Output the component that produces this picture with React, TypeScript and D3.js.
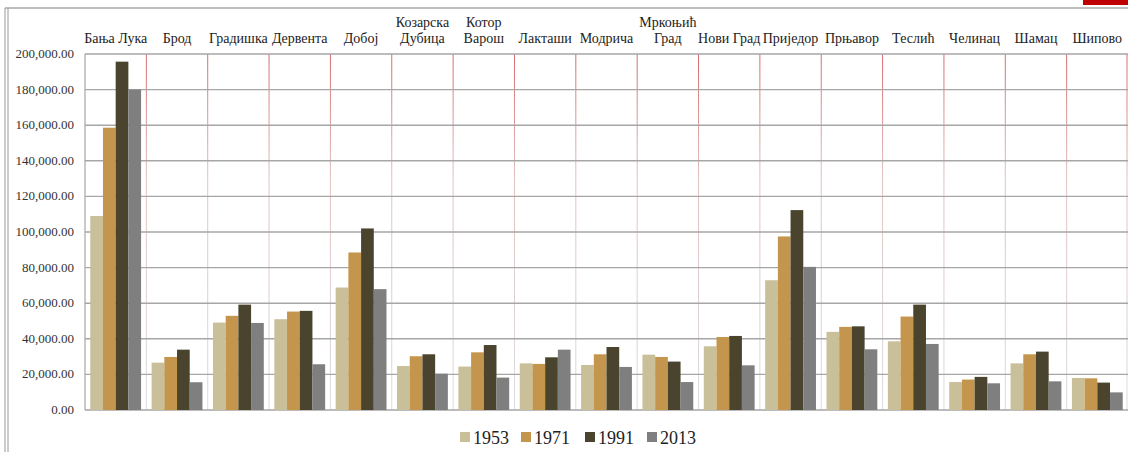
import * as React from "react";
import * as d3 from "d3";

const categories = [
  "Бања Лука", "Брод", "Градишка", "Дервента", "Добој", "Козарска\nДубица", "Котор\nВарош",
  "Лакташи", "Модрича", "Мркоњић\nГрад", "Нови Град", "Приједор", "Прњавор", "Теслић",
  "Челинац", "Шамац", "Шипово",
];

const years = ["1953", "1971", "1991", "2013"];

const pop1953 = [109000, 26600, 49100, 51000, 68800, 24700, 24400, 26200, 25300, 31100, 35800, 72900, 43900, 38600, 15700, 26200, 18000];
const pop1971 = [158600, 29800, 52900, 55300, 88500, 30200, 32400, 25900, 31300, 29800, 41000, 97500, 46700, 52500, 17100, 31300, 17800];
const pop1991 = [195700, 33900, 59200, 55700, 102000, 31300, 36500, 29600, 35400, 27200, 41600, 112300, 47000, 59200, 18600, 32800, 15400];
const pop2013 = [180000, 15600, 48900, 25700, 67900, 20400, 18200, 33900, 24200, 15700, 25100, 80400, 34100, 37100, 15000, 16100, 9900];

const series = [pop1953, pop1971, pop1991, pop2013];
const colors = ["#c9bf98", "#c4954c", "#4a442e", "#7f7f7f"];

const W = 1128;
const H = 452;
const PLOT = { left: 85, right: 1128, top: 54, bottom: 410 };
const FONT = "Liberation Serif, DejaVu Serif, serif";

export default function App() {
  const x = d3.scaleBand<number>().domain(d3.range(categories.length)).range([PLOT.left, PLOT.right]);
  const xi = d3.scaleBand<number>().domain(d3.range(years.length)).range([0, x.bandwidth()]).paddingOuter(0.415);
  const y = d3.scaleLinear().domain([0, 200000]).range([PLOT.bottom, PLOT.top]);
  const ticks = d3.range(0, 200001, 20000);
  const fmt = d3.format(",.2f");

  const legendX = [460, 521, 585, 647];

  return (
    <svg width={W} height={H} style={{ position: "absolute", left: 0, top: 0, background: "#fff", fontFamily: FONT }}>
      <defs>
        <linearGradient id="vgrid" gradientUnits="userSpaceOnUse" x1={0} y1={PLOT.top} x2={0} y2={PLOT.bottom}>
          <stop offset="0" stopColor="#d66a6c" />
          <stop offset="0.35" stopColor="#e2c2c2" />
          <stop offset="1" stopColor="#dcdcdc" />
        </linearGradient>
      </defs>

      {/* frame */}
      <rect x={1083} y={0} width={45} height={5} fill="#c00000" />
      <line x1={5} x2={W} y1={8} y2={8} stroke="#a8a8a8" strokeWidth={1.5} />
      <line x1={5} x2={5} y1={8} y2={H} stroke="#a8a8a8" strokeWidth={1.2} />
      <line x1={8} x2={8} y1={8} y2={H} stroke="#a8a8a8" strokeWidth={1.2} />

      {/* vertical grid */}
      {d3.range(1, categories.length + 1).map((i) => {
        const gx = Math.min(PLOT.left + i * x.step(), W - 1);
        return <line key={`v${i}`} x1={gx} x2={gx} y1={PLOT.top} y2={PLOT.bottom} stroke="url(#vgrid)" strokeWidth={1} />;
      })}

      {/* horizontal grid + y labels */}
      {ticks.map((t) => (
        <g key={`h${t}`}>
          <line x1={PLOT.left} x2={PLOT.right} y1={y(t)} y2={y(t)} stroke="#a6a6a6" strokeWidth={1.4} />
          <text x={74} y={y(t)} dy="0.3em" textAnchor="end" fontSize={13} fill="#333" style={{ fontFamily: FONT }}>
            {fmt(t)}
          </text>
        </g>
      ))}
      <line x1={PLOT.left} x2={PLOT.left} y1={PLOT.top} y2={PLOT.bottom} stroke="#a6a6a6" strokeWidth={1.2} />

      {/* bars */}
      {series.map((vals, s) =>
        vals.map((v, i) => (
          <rect
            key={`b${s}-${i}`}
            x={(x(i) ?? 0) + (xi(s) ?? 0)}
            y={y(v)}
            width={xi.bandwidth()}
            height={y(0) - y(v)}
            fill={colors[s]}
          />
        )),
      )}

      {/* category labels */}
      {categories.map((c, i) => {
        const lines = c.split("\n");
        const cx = (x(i) ?? 0) + x.bandwidth() / 2;
        return (
          <text key={`c${i}`} x={cx} textAnchor="middle" fontSize={14} fill="#222" style={{ fontFamily: FONT }}>
            {lines.map((l, k) => (
              <tspan key={k} x={cx} y={43 - (lines.length - 1 - k) * 16}>
                {l}
              </tspan>
            ))}
          </text>
        );
      })}

      {/* legend */}
      {years.map((yr, s) => (
        <g key={`l${yr}`} transform={`translate(${legendX[s]},0)`}>
          <rect x={0} y={432} width={10} height={10} fill={colors[s]} />
          <text x={13} y={444} fontSize={18} fill="#222" style={{ fontFamily: FONT }}>
            {yr}
          </text>
        </g>
      ))}
    </svg>
  );
}
